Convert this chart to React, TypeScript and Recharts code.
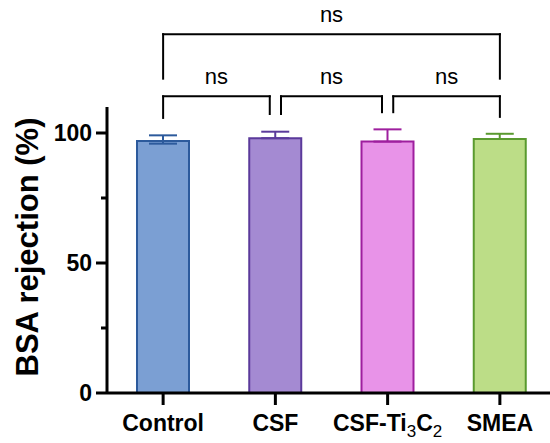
import { BarChart, Bar, XAxis, YAxis, Cell, ErrorBar, ReferenceLine } from "recharts";

const categories = ["Control", "CSF", "CSF-Ti3C2", "SMEA"];
const rejection = [96.9, 98.0, 96.7, 97.7];
const errorLow = [1.0, 0, 0, 0];
const errorHigh = [2.2, 2.5, 4.7, 2.0];

const yTicks = [0, 25, 50, 75, 100];
const yTickLabels = ["0", "", "50", "", "100"];

// pairwise comparisons (category indexes) and their results
const comparisons = [
  [0, 1],
  [1, 2],
  [2, 3],
  [0, 3],
];
const comparisonLabels = ["ns", "ns", "ns", "ns"];

const FILLS = ["#7b9fd3", "#a48ad2", "#e893e8", "#bcdd87"];
const STROKES = ["#2c5a9c", "#5b3a9b", "#9e1f9e", "#5a9a2f"];
const FONT = "'Liberation Sans', Arial, Helvetica, sans-serif";

// bracket geometry in data units: leg nudges, bar level, leg feet
const BRACKET_STYLE = [
  { nudge: [0, -0.05], top: 114.1, feet: [105.8, 107.3] },
  { nudge: [0.05, -0.05], top: 114.1, feet: [107.3, 108.0] },
  { nudge: [0.05, 0], top: 114.1, feet: [108.0, 106.2] },
  { nudge: [0, 0], top: 138.0, feet: [120.9, 120.9] },
];

const data = categories.map((name, i) => {
  const row: any = { pos: i, name, value: rejection[i] };
  row[`err${i}`] = [errorLow[i], errorHigh[i]];
  return row;
});

function CategoryTick({ x, y, payload }: any) {
  const name = categories[payload.value] ?? "";
  const base = {
    x,
    y: y + 26,
    textAnchor: "middle" as const,
    fontFamily: FONT,
    fontSize: 23,
    fontWeight: 700,
    fill: "#000",
  };
  if (name === "CSF-Ti3C2") {
    return (
      <text {...base}>
        <tspan>CSF-Ti</tspan>
        <tspan dy={5.5} fontSize={17} fontWeight={400}>3</tspan>
        <tspan dy={-5.5}>C</tspan>
        <tspan dy={5.5} fontSize={17} fontWeight={400}>2</tspan>
      </text>
    );
  }
  return <text {...base}>{name}</text>;
}

function ValueTick({ x, y, payload }: any) {
  const label = yTickLabels[yTicks.indexOf(payload.value)];
  const len = label ? 11 : 6;
  return (
    <g>
      <line x1={x - len} x2={x} y1={y} y2={y} stroke="#000" strokeWidth={3} />
      {label && (
        <text
          x={x - 15}
          y={y}
          dy={8}
          textAnchor="end"
          fontFamily={FONT}
          fontSize={23}
          fontWeight={700}
          fill="#000"
        >
          {label}
        </text>
      )}
    </g>
  );
}

function AxisTitle({ viewBox }: any) {
  const cx = 38;
  const cy = viewBox.y + viewBox.height / 2 - 3;
  return (
    <text
      x={cx}
      y={cy}
      transform={`rotate(-90, ${cx}, ${cy})`}
      textAnchor="middle"
      fontFamily={FONT}
      fontSize={31}
      fontWeight={700}
      fill="#000"
    >
      BSA rejection (%)
    </text>
  );
}

export default function App() {
  const lineProps = {
    stroke: "#000",
    strokeWidth: 2,
    strokeLinecap: "square" as const,
    ifOverflow: "visible" as const,
  };

  return (
    <div
      style={{
        position: "absolute",
        left: 0,
        top: 0,
        width: 550,
        height: 443,
        overflow: "hidden",
        background: "#fff",
      }}
    >
      <BarChart
        width={556}
        height={443}
        data={data}
        margin={{ top: 107, right: 0, bottom: 0, left: 0 }}
      >
        <XAxis
          dataKey="pos"
          type="number"
          domain={[-0.5, 3.5]}
          ticks={[0, 1, 2, 3]}
          allowDataOverflow
          height={50}
          axisLine={{ stroke: "#000", strokeWidth: 3 }}
          tickLine={{ stroke: "#000", strokeWidth: 3 }}
          tickSize={12}
          tickMargin={0}
          tick={<CategoryTick />}
          interval={0}
        />
        <YAxis
          width={107}
          domain={[0, 110]}
          ticks={yTicks}
          allowDataOverflow
          axisLine={{ stroke: "#000", strokeWidth: 3 }}
          tickLine={false}
          tickSize={0}
          tickMargin={0}
          tick={<ValueTick />}
          label={{ content: <AxisTitle /> }}
        />
        <Bar dataKey="value" barSize={52} strokeWidth={2} isAnimationActive={false}>
          {data.map((_, i) => (
            <Cell key={`cell-${i}`} fill={FILLS[i]} stroke={STROKES[i]} />
          ))}
          {categories.map((_, i) => (
            <ErrorBar
              key={`err-${i}`}
              dataKey={`err${i}`}
              width={14}
              stroke={STROKES[i]}
              strokeWidth={2}
              isAnimationActive={false}
            />
          ))}
        </Bar>
        {comparisons.map(([a, b], i) => {
          const s = BRACKET_STYLE[i];
          const xa = a + s.nudge[0];
          const xb = b + s.nudge[1];
          return [
            <ReferenceLine
              key={`l-${i}`}
              {...lineProps}
              segment={[
                { x: xa, y: s.feet[0] },
                { x: xa, y: s.top },
              ]}
            />,
            <ReferenceLine
              key={`t-${i}`}
              {...lineProps}
              segment={[
                { x: xa, y: s.top },
                { x: xb, y: s.top },
              ]}
              label={{
                value: comparisonLabels[i],
                position: "top",
                offset: 12,
                fontSize: 22,
                fontFamily: FONT,
                fill: "#000",
              }}
            />,
            <ReferenceLine
              key={`r-${i}`}
              {...lineProps}
              segment={[
                { x: xb, y: s.top },
                { x: xb, y: s.feet[1] },
              ]}
            />,
          ];
        })}
      </BarChart>
    </div>
  );
}
